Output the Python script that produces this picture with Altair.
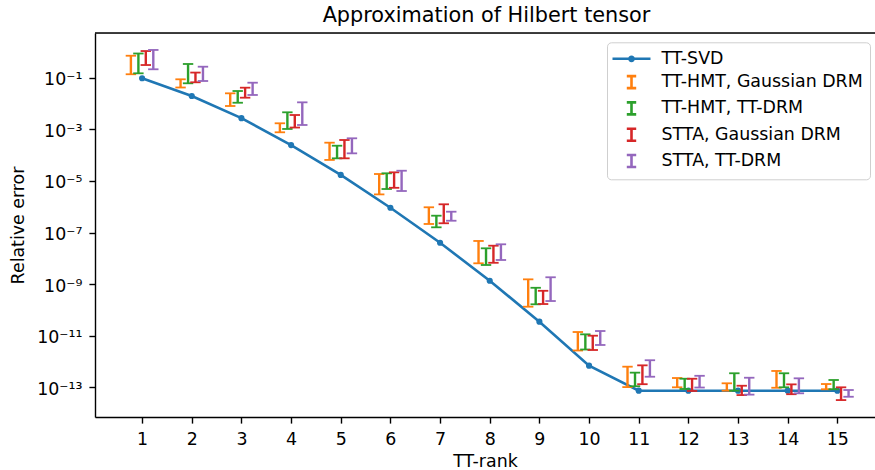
import altair as alt
import pandas as pd

# ---------------- data ----------------
ranks = list(range(1, 16))

svd_err = [9.5e-2, 1.95e-2, 2.7e-3, 2.45e-4, 1.7e-5, 9.1e-7, 4.0e-8, 1.35e-9,
           3.5e-11, 6.9e-13, 7.4e-14, 7.4e-14, 7.4e-14, 7.4e-14, 7.4e-14]

series_names = ["TT-HMT, Gaussian DRM", "TT-HMT, TT-DRM",
                "STTA, Gaussian DRM", "STTA, TT-DRM"]

hmt_gauss_lo = [0.136, 0.0417, 8.0e-3, 7.66e-4, 6.5e-5, 3.0e-6, 2.14e-7, 6.4e-9,
                1.33e-10, 2.67e-12, 1.02e-13, 1.0e-13, 7.4e-14, 9.6e-14, 8.4e-14]
hmt_gauss_hi = [0.71, 0.0867, 0.0248, 1.71e-3, 3.03e-4, 1.85e-5, 9.5e-7, 4.7e-8,
                1.53e-9, 1.39e-11, 6.3e-13, 2.29e-13, 1.43e-13, 4.3e-13, 1.34e-13]

hmt_tt_lo = [0.148, 0.0607, 0.0107, 1.03e-3, 7.5e-5, 4.85e-6, 1.59e-7, 5.5e-9,
             1.65e-10, 2.92e-12, 1.1e-13, 8.6e-14, 7.4e-14, 1.0e-13, 8.4e-14]
hmt_tt_hi = [0.867, 0.34, 0.0305, 4.56e-3, 2.31e-4, 1.97e-5, 4.48e-7, 2.44e-8,
             7.2e-10, 1.13e-11, 3.7e-13, 2.15e-13, 3.5e-13, 3.5e-13, 1.92e-13]

stta_gauss_lo = [0.31, 0.0664, 0.0168, 1.17e-3, 7.5e-5, 5.4e-6, 2.28e-7, 6.7e-9,
                 1.69e-10, 2.79e-12, 1.32e-13, 7.2e-14, 5.0e-14, 5.4e-14, 3.2e-14]
stta_gauss_hi = [1.08, 0.158, 0.041, 3.58e-3, 3.85e-4, 2.15e-5, 1.24e-6, 3.08e-8,
                 5.5e-10, 1.0e-11, 7.1e-13, 2.15e-13, 1.15e-13, 1.3e-13, 1.0e-13]

stta_tt_lo = [0.212, 0.0745, 0.0214, 1.47e-3, 1.17e-4, 4.06e-6, 2.86e-7, 8.6e-9,
              2.21e-10, 4.37e-12, 2.57e-13, 9.8e-14, 5.2e-14, 5.85e-14, 4.3e-14]
stta_tt_hi = [1.19, 0.267, 0.064, 0.0111, 4.48e-4, 2.48e-5, 6.4e-7, 3.49e-8,
              1.84e-9, 1.52e-11, 1.12e-12, 2.79e-13, 2.35e-13, 2.23e-13, 7.85e-14]

x_ticks = ranks
y_tick_values = [1e-1, 1e-3, 1e-5, 1e-7, 1e-9, 1e-11, 1e-13]
y_tick_labels = ["10⁻¹", "10⁻³", "10⁻⁵", "10⁻⁷", "10⁻⁹", "10⁻¹¹", "10⁻¹³"]
y_tick_exps = [-1, -3, -5, -7, -9, -11, -13]

# ---------------- styling ----------------
FONT = "DejaVu Sans"
FS = 17.4
BLUE = "#1f77b4"
series_colors = ["#ff7f0e", "#2ca02c", "#d62728", "#9467bd"]
series_offsets = [-11.2, -3.7, 3.7, 11.2]   # pixel dodge of the error bars
series_lo = [hmt_gauss_lo, hmt_tt_lo, stta_gauss_lo, stta_tt_lo]
series_hi = [hmt_gauss_hi, hmt_tt_hi, stta_gauss_hi, stta_tt_hi]

W, H = 780, 384
x_scale = alt.Scale(domain=[0.0516, 15.758], nice=False, zero=False)
y_scale = alt.Scale(type="log", domain=[10 ** -14.151, 10 ** 0.7326], nice=False)

label_expr = " : ".join(
    f"round(log(datum.value)/LN10) == {e} ? '{t}'" for e, t in zip(y_tick_exps, y_tick_labels)
) + " : ''"

x_axis = alt.Axis(values=x_ticks, format="d", grid=False, tickSize=6.1, tickWidth=1.4,
                  tickColor="black", domainColor="black", domainWidth=1.4,
                  labelFont=FONT, labelFontSize=FS, labelColor="black", labelPadding=7.6,
                  labelOverlap=False, labelFlush=False,
                  title="TT-rank", titleFont=FONT, titleFontSize=FS, titleFontWeight="normal",
                  titleColor="black", titlePadding=4)
y_axis = alt.Axis(values=y_tick_values, labelExpr=label_expr, grid=False, tickSize=6.1,
                  tickWidth=1.4, tickColor="black", domainColor="black", domainWidth=1.4,
                  labelFont=FONT, labelFontSize=FS, labelColor="black", labelPadding=7,
                  labelOverlap=False, labelFlush=False, labelOffset=2,
                  title="Relative error", titleFont=FONT, titleFontSize=FS,
                  titleFontWeight="normal", titleColor="black", titlePadding=9)

X = alt.X("rank:Q", scale=x_scale, axis=x_axis)
Y_AX = dict(scale=y_scale, axis=y_axis)

# ---------------- frame line along the top of the plot ----------------
top_frame = alt.Chart(pd.DataFrame({"f": [0]})).mark_rule(color="black", strokeWidth=1.4).encode(
    x=alt.value(0), x2=alt.value(W), y=alt.value(0)
)

# ---------------- TT-SVD line ----------------
svd_df = pd.DataFrame({"rank": ranks, "err": svd_err})
line = alt.Chart(svd_df).mark_line(color=BLUE, strokeWidth=2.6).encode(
    x=X, y=alt.Y("err:Q", **Y_AX),
)
dots = alt.Chart(svd_df).mark_circle(color=BLUE, size=38, opacity=1).encode(
    x=X, y=alt.Y("err:Q", **Y_AX)
)

layers = [line, dots]

# ---------------- error bars ----------------
for name, lo, hi, col, off in zip(series_names, series_lo, series_hi, series_colors, series_offsets):
    df = pd.DataFrame({"rank": ranks, "lo": lo, "hi": hi})
    base = alt.Chart(df)
    rule = base.mark_rule(color=col, strokeWidth=2.4, xOffset=off).encode(
        x=X, y=alt.Y("lo:Q", **Y_AX), y2="hi:Q"
    )
    cap_lo = base.mark_tick(color=col, orient="horizontal", size=10.4, thickness=1.8,
                            xOffset=off, opacity=1).encode(
        x=X, y=alt.Y("lo:Q", **Y_AX)
    )
    cap_hi = base.mark_tick(color=col, orient="horizontal", size=10.4, thickness=1.8,
                            xOffset=off, opacity=1).encode(
        x=X, y=alt.Y("hi:Q", **Y_AX)
    )
    layers += [rule, cap_lo, cap_hi]

layers.append(top_frame)

# ---------------- legend (native Vega legend with custom symbols) ----------------
legend_names = ["TT-SVD"] + series_names
legend_colors = [BLUE] + series_colors
svd_symbol = ("M-2.235,0L2.235,0"
              "M0.25,0A0.25,0.25,0,1,1,-0.25,0A0.25,0.25,0,1,1,0.25,0"
              "M0.09,0A0.09,0.09,0,1,1,-0.09,0A0.09,0.09,0,1,1,0.09,0")
bar_symbol = "M-0.553,-0.706L0.553,-0.706M0,-0.706L0,0.706M-0.553,0.706L0.553,0.706"
legend_shapes = [svd_symbol] + [bar_symbol] * 4

leg = alt.Legend(title=None, orient="none", legendX=512, legendY=9.3, direction="vertical",
                 symbolSize=289, symbolStrokeWidth=2.6, symbolOpacity=1,
                 symbolFillColor="transparent",
                 labelFont=FONT, labelFontSize=FS, labelColor="black", labelLimit=500,
                 symbolOffset=8, labelOffset=20, rowPadding=2.3, padding=6.5,
                 fillColor="white", strokeColor="#cfcfcf", cornerRadius=4)

legend_df = pd.DataFrame({"series": legend_names})
legend_layer = alt.Chart(legend_df).mark_point(opacity=0, filled=False, strokeWidth=2.6).encode(
    x=alt.value(0), y=alt.value(0),
    color=alt.Color("series:N", scale=alt.Scale(domain=legend_names, range=legend_colors), legend=leg),
    shape=alt.Shape("series:N", scale=alt.Scale(domain=legend_names, range=legend_shapes), legend=leg),
)
layers.append(legend_layer)

chart = alt.layer(*layers).properties(
    width=W, height=H,
    autosize=alt.AutoSizeParams(type="none"),
    padding={"left": 95, "top": 33, "right": 0, "bottom": 53},
    title=alt.TitleParams(text="Approximation of Hilbert tensor", font=FONT, fontSize=20.8,
                          fontWeight="normal", color="black", anchor="middle", frame="group",
                          offset=10, dx=1.5, dy=6),
).configure_view(stroke=None).configure(background="white", font=FONT)

chart.save("out.html", embed_options={"renderer": "svg", "actions": False})
